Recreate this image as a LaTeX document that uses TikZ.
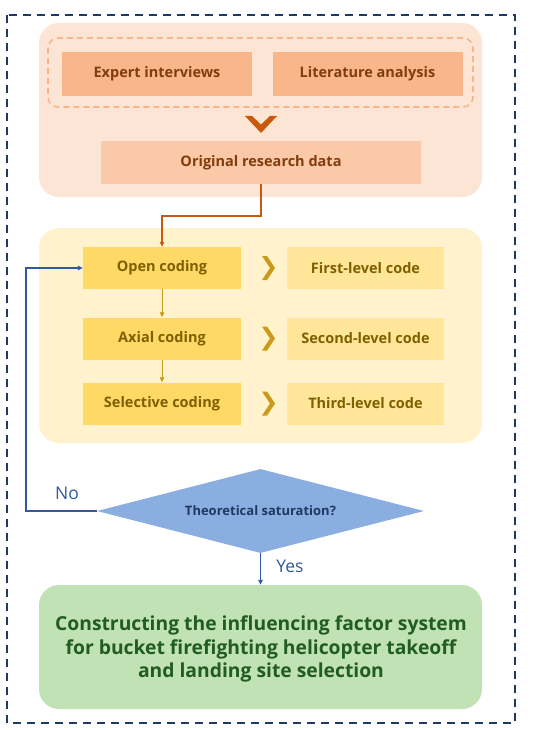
\documentclass[tikz,border=0pt]{standalone}
\usepackage{fontspec}
\setmainfont{Open Sans}
\usetikzlibrary{shapes.geometric,arrows.meta,calc}
\definecolor{navy}{HTML}{1F3864}
\definecolor{peachbg}{HTML}{FDE5D5}
\definecolor{peachdash}{HTML}{F5B68C}
\definecolor{salmon}{HTML}{F8B68A}
\definecolor{salmonlt}{HTML}{FAC9A7}
\definecolor{browntxt}{HTML}{843C0C}
\definecolor{orangeln}{HTML}{C9590F}
\definecolor{yellowbg}{HTML}{FFF2CC}
\definecolor{codebox}{HTML}{FFD966}
\definecolor{levelbox}{HTML}{FFE699}
\definecolor{yellowtxt}{HTML}{7F6000}
\definecolor{goldch}{HTML}{CC9A1A}
\definecolor{blueln}{HTML}{2F5A9E}
\definecolor{diafill}{HTML}{8AAEE0}
\definecolor{greenbg}{HTML}{C0E2B5}
\definecolor{greentxt}{HTML}{215C21}
\tikzset{
  boxfont/.style={font=\fontsize{14.5}{16}\selectfont\bfseries},
  sbox/.style={boxfont, fill=salmon, text=browntxt, minimum width=190pt, minimum height=44pt, inner sep=0pt},
  cbox/.style={boxfont, fill=codebox, text=yellowtxt, minimum width=158pt, minimum height=42pt, inner sep=0pt},
  lbox/.style={boxfont, fill=levelbox, text=yellowtxt, minimum width=157pt, minimum height=42pt, inner sep=0pt},
  lbl/.style={text=blueln, font=\fontsize{17.5}{19}\selectfont},
  tip/.style={-{Triangle[length=5pt,width=4.5pt]}},
}
\begin{document}
\begin{tikzpicture}[x=1pt,y=-1pt]
\useasboundingbox (0,0) rectangle (550,730);
% outer dashed frame
\draw[navy, line width=2.6pt, dash pattern=on 8pt off 6pt] (7,15) rectangle (515,723);
% panels
\fill[peachbg, rounded corners=20pt] (39,23) rectangle (482,197);
\draw[peachdash, line width=1.6pt, dash pattern=on 6pt off 4pt, rounded corners=10pt] (48,38) rectangle (473,107);
\fill[yellowbg, rounded corners=20pt] (39,228) rectangle (482,443);
\node[fill=greenbg, rounded corners=20pt, minimum width=443pt, minimum height=124pt, inner sep=0pt] (gpanel) at (260.5,647) {};
% top boxes
\node[sbox] (expert) at (157,74) {Expert interviews};
\node[sbox] (lit) at (367.5,74) {Literature analysis};
\fill[orangeln] (245,116)--(252,116)--(261,124.5)--(270,116)--(277,116)--(261,133)--cycle;
\node[sbox, fill=salmonlt, minimum width=320pt, minimum height=43pt] (orig) at (261,162.5) {Original research data};
% coding boxes
\node[cbox] (open) at (162,268) {Open coding};
\node[cbox] (axial) at (162,338.5) {Axial coding};
\node[cbox] (sel) at (162,403.5) {Selective coding};
\node[lbox] (first) at (365.5,268) {First-level code};
\node[lbox] (second) at (365.5,338.5) {Second-level code};
\node[lbox] (third) at (365.5,403.5) {Third-level code};
\foreach \yy in {268,338.5,403.5}{
  \fill[goldch] (262,\yy-12)--(267,\yy-12)--(275,\yy)--(267,\yy+12)--(262,\yy+12)--(270,\yy)--cycle;
}
\draw[goldch, line width=0.8pt, tip] (open.south) -- (axial.north);
\draw[goldch, line width=0.8pt, tip] (axial.south) -- (sel.north);
% connector orig -> open
\coordinate (bend) at (261,216);
\draw[orangeln, line width=1.5pt, tip] (orig.south) -- (bend) -| (open.north);
% diamond
\node[diamond, aspect=3.9, fill=diafill, minimum width=327pt, minimum height=84pt, inner sep=0pt, text=navy, font=\fontsize{13}{15}\selectfont\bfseries] (dia) at (260.5,511) {Theoretical saturation?};
\coordinate (fb) at (26,511);
\draw[blueln, line width=1.5pt, tip] (dia.west) -- (fb) |- (open.west);
\node[lbl] (no) at (67,493) {No};
% final
\node[text=greentxt, font=\fontsize{19.3}{23.5}\selectfont\bfseries, align=center, inner sep=0pt] (final) at (261,649) {Constructing the influencing factor system\\for bucket firefighting helicopter takeoff\\and landing site selection};
\draw[blueln, line width=1.5pt, tip] (dia.south) -- (dia.south |- gpanel.north);
\node[lbl] (yes) at (290,566) {Yes};
\end{tikzpicture}
\end{document}
